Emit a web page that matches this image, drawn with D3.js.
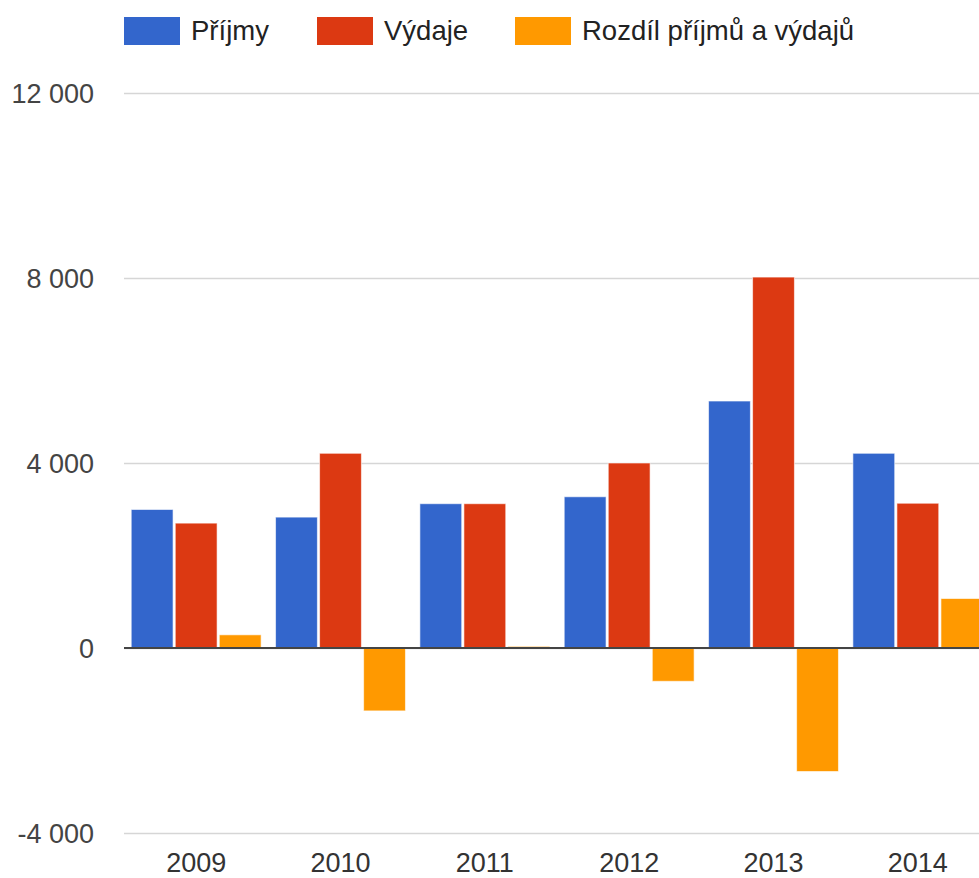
<!DOCTYPE html>
<html>
<head>
<meta charset="utf-8">
<script src="https://cdn.jsdelivr.net/npm/d3@7"></script>
<style>
  html, body { margin: 0; padding: 0; background: #fff; overflow: hidden; }
  svg { display: block; }
  text { font-family: "Liberation Sans", Arial, sans-serif; }
</style>
</head>
<body>
<svg id="chart" width="979" height="878"></svg>
<script>
const years = ["2009", "2010", "2011", "2012", "2013", "2014"];
const seriesNames = ["Příjmy", "Výdaje", "Rozdíl příjmů a výdajů"];
const prijmy = [2995, 2830, 3120, 3270, 5340, 4210];
const vydaje = [2700, 4210, 3120, 4000, 8020, 3130];
const rozdil = [285, -1360, 35, -720, -2670, 1070];
const colors = ["#3366cc", "#dc3912", "#ff9900"];
const yTicks = [-4000, 0, 4000, 8000, 12000];

const seriesValues = [prijmy, vydaje, rozdil];

const svg = d3.select("#chart");
const plotLeft = 124, plotRight = 990, plotTop = 93, plotBottom = 833;

const locale = d3.formatLocale({decimal: ",", thousands: " ", grouping: [3], currency: ["", ""], minus: "-"});
const fmt = locale.format(",d");

const x = d3.scaleBand().domain(years).range([plotLeft, plotRight]).paddingInner(0.1).paddingOuter(0.05);
const xs = d3.scaleBand().domain(d3.range(seriesNames.length)).range([0, x.bandwidth()]).paddingInner(0.05);
const y = d3.scaleLinear().domain([-4000, 12000]).range([plotBottom, plotTop]);

// gridlines + y labels
const yAxis = d3.axisLeft(y).tickValues(yTicks).tickFormat(fmt).tickSizeInner(-(979 - plotLeft)).tickSizeOuter(0).tickPadding(30);
const gy = svg.append("g").attr("transform", `translate(${plotLeft},0)`).call(yAxis);
gy.select(".domain").remove();
gy.selectAll(".tick line").attr("stroke", "#d6d6d6").attr("stroke-width", 1.5);
gy.selectAll(".tick text")
  .attr("fill", "#444").attr("font-size", 27)
  .attr("font-family", "'Liberation Sans', Arial, sans-serif")
  .attr("dy", "0.35em");

// bars
const groups = svg.append("g").selectAll("g").data(years).join("g")
  .attr("transform", d => `translate(${x(d)},0)`);
groups.selectAll("rect")
  .data((d, i) => seriesValues.map((s, k) => ({k, v: s[i]})))
  .join("rect")
  .attr("x", d => xs(d.k))
  .attr("width", xs.bandwidth())
  .attr("y", d => y(Math.max(0, d.v)))
  .attr("height", d => Math.abs(y(d.v) - y(0)))
  .attr("fill", d => colors[d.k])
  .attr("stroke", "#fff").attr("stroke-opacity", 0.6).attr("stroke-width", 1);

// zero baseline
svg.append("line")
  .attr("x1", plotLeft).attr("x2", 979)
  .attr("y1", y(0)).attr("y2", y(0))
  .attr("stroke", "#444").attr("stroke-width", 2);

// x labels
const xAxis = d3.axisBottom(x).tickSize(0).tickPadding(0);
const gx = svg.append("g").attr("transform", `translate(0,${plotBottom})`).call(xAxis);
gx.select(".domain").remove();
gx.selectAll(".tick text")
  .attr("fill", "#333").attr("font-size", 27)
  .attr("font-family", "'Liberation Sans', Arial, sans-serif")
  .attr("dy", 0).attr("y", 39);

// legend
const legendX = [124, 317, 515];
const lg = svg.append("g").selectAll("g").data(seriesNames).join("g")
  .attr("transform", (d, i) => `translate(${legendX[i]},17)`);
lg.append("rect").attr("width", 56).attr("height", 28).attr("fill", (d, i) => colors[i]);
lg.append("text").attr("x", 67).attr("y", 23)
  .attr("font-size", 27.5).attr("fill", "#222").text(d => d);
</script>
</body>
</html>
